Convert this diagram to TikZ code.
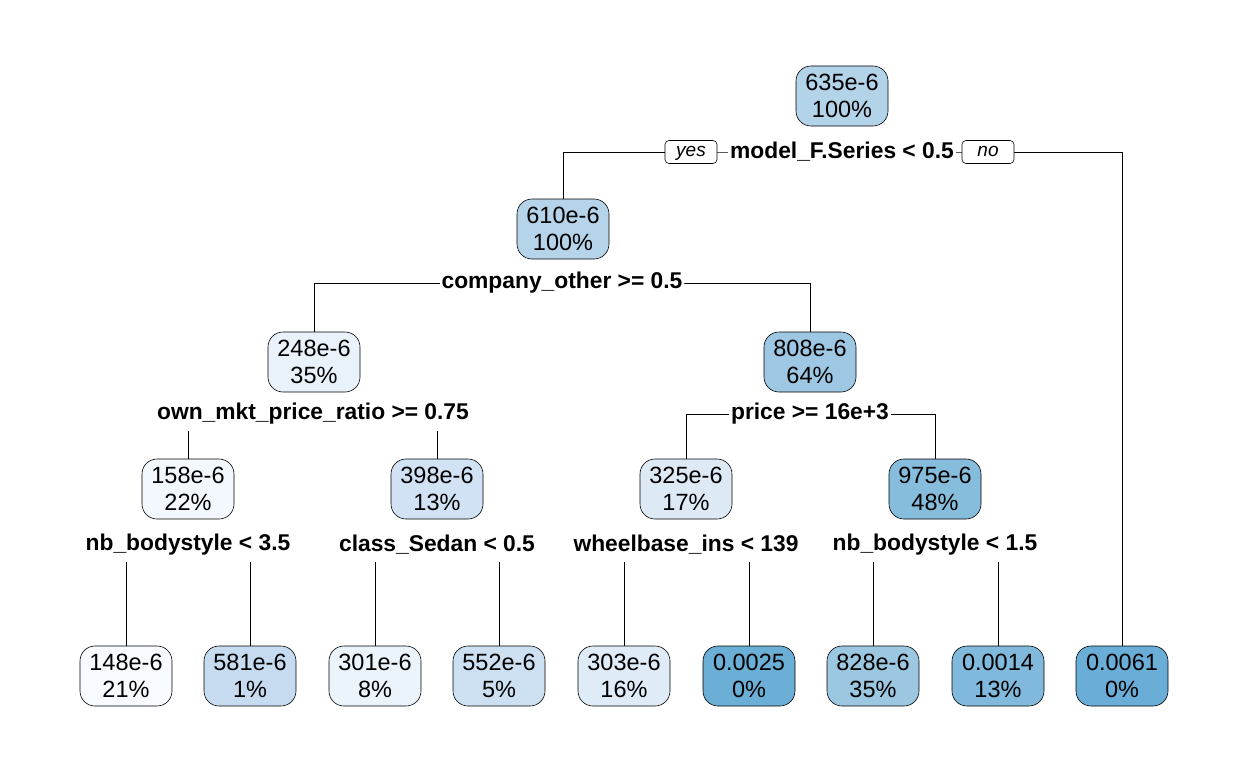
\documentclass[tikz,border=0pt]{standalone}
\usepackage{fontspec}
\setmainfont{Liberation Sans}
\usetikzlibrary{backgrounds}
\definecolor{c635}{HTML}{B3D3E8}
\definecolor{c610}{HTML}{B5D4E9}
\definecolor{c248}{HTML}{E9F2FA}
\definecolor{c808}{HTML}{9DC7E2}
\definecolor{c158}{HTML}{F2F8FD}
\definecolor{c398}{HTML}{D0E2F3}
\definecolor{c325}{HTML}{DDEAF6}
\definecolor{c975}{HTML}{86BCDC}
\definecolor{c148}{HTML}{F7FBFF}
\definecolor{c581}{HTML}{C6DBEF}
\definecolor{c301}{HTML}{ECF4FB}
\definecolor{c552}{HTML}{CCE0F2}
\definecolor{c303}{HTML}{DFECF7}
\definecolor{c0025}{HTML}{6BAED6}
\definecolor{c828}{HTML}{9CC7E1}
\definecolor{c0014}{HTML}{80B9DB}
\definecolor{c0061}{HTML}{6AADD6}
\tikzset{
  treebox/.style={draw=black, line width=0.6pt, rounded corners=15pt,
    minimum width=92pt, minimum height=60pt, align=center, inner sep=0pt,
    font=\fontsize{23.5}{26.5}\selectfont},
  splitlab/.style={fill=white, inner xsep=2pt, inner ysep=0pt, minimum height=33pt,
    font=\fontsize{22.8}{26}\selectfont\bfseries},
  yesno/.style={draw=black, fill=white, line width=0.6pt, rounded corners=4pt,
    minimum width=52pt, minimum height=23pt, inner sep=0pt,
    text height=12pt, text depth=4pt,
    font=\fontsize{19}{22}\selectfont\itshape},
  branch/.style={draw=black, line width=0.8pt}
}
\begin{document}
\begin{tikzpicture}[x=1pt,y=-1pt]
\useasboundingbox (0,0) rectangle (1248,768);
% internal nodes
\node[treebox, fill=c635] (n1) at (842,96) {635e-6\\100\%};
\node[treebox, fill=c610] (n2) at (563,229) {610e-6\\100\%};
\node[treebox, fill=c248] (n4) at (314,362) {248e-6\\35\%};
\node[treebox, fill=c808] (n5) at (810,362) {808e-6\\64\%};
\node[treebox, fill=c158] (n8) at (188,489) {158e-6\\22\%};
\node[treebox, fill=c398] (n9) at (437,489) {398e-6\\13\%};
\node[treebox, fill=c325] (n10) at (686,489) {325e-6\\17\%};
\node[treebox, fill=c975] (n11) at (935,489) {975e-6\\48\%};
% leaves
\node[treebox, fill=c148] (l1) at (126,676) {148e-6\\21\%};
\node[treebox, fill=c581] (l2) at (250,676) {581e-6\\1\%};
\node[treebox, fill=c301] (l3) at (375,676) {301e-6\\8\%};
\node[treebox, fill=c552] (l4) at (499,676) {552e-6\\5\%};
\node[treebox, fill=c303] (l5) at (624,676) {303e-6\\16\%};
\node[treebox, fill=c0025] (l6) at (749,676) {0.0025\\0\%};
\node[treebox, fill=c828] (l7) at (873,676) {828e-6\\35\%};
\node[treebox, fill=c0014] (l8) at (998,676) {0.0014\\13\%};
\node[treebox, fill=c0061] (l9) at (1122,676) {0.0061\\0\%};
% split labels
\node[splitlab] (s1) at (842,152) {model\_F.Series < 0.5};
\node[yesno] (yes) at (691,152) {yes};
\node[yesno] (no) at (988,152) {no};
\node[splitlab] (s2) at (562,283) {company\_other >= 0.5};
\node[splitlab] (s4) at (313,414) {own\_mkt\_price\_ratio >= 0.75};
\node[splitlab] (s5) at (810,414) {price >= 16e+3};
\node[splitlab] (s8) at (188,545) {nb\_bodystyle < 3.5};
\node[splitlab] (s9) at (437,545) {class\_Sedan < 0.5};
\node[splitlab] (s10) at (686,545) {wheelbase\_ins < 139};
\node[splitlab] (s11) at (935,545) {nb\_bodystyle < 1.5};
% branches
\begin{pgfonlayer}{background}
\draw[branch] (n2.north) |- (s1.center) -| (l9.north);
\draw[branch] (n4.north) |- (s2.center) -| (n5.north);
\draw[branch] (n8.north) |- (s4.center) -| (n9.north);
\draw[branch] (n10.north) |- (s5.center) -| (n11.north);
\draw[branch] (l1.north) |- (s8.center) -| (l2.north);
\draw[branch] (l3.north) |- (s9.center) -| (l4.north);
\draw[branch] (l5.north) |- (s10.center) -| (l6.north);
\draw[branch] (l7.north) |- (s11.center) -| (l8.north);
\end{pgfonlayer}
\end{tikzpicture}
\end{document}
